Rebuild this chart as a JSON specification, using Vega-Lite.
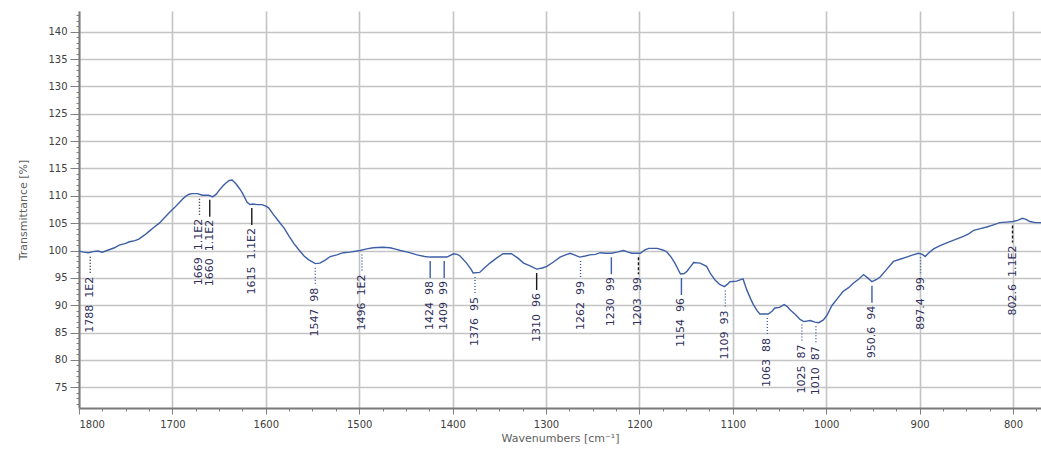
{
  "$schema": "https://vega.github.io/schema/vega-lite/v6.json",
  "width": 962,
  "height": 397,
  "autosize": "none",
  "padding": {"left": 79, "top": 11, "right": 0, "bottom": 45},
  "background": "white",
  "config": {"view": {"stroke": null}, "font": "DejaVu Sans"},
  "datasets": {
    "spectrum": [
      {"w": 1800, "T": 99.9}, {"w": 1795, "T": 99.7}, {"w": 1790, "T": 99.6}, {"w": 1785, "T": 99.8},
      {"w": 1780, "T": 99.9}, {"w": 1775, "T": 99.7}, {"w": 1770, "T": 100.0}, {"w": 1762, "T": 100.5},
      {"w": 1757, "T": 101.0}, {"w": 1750, "T": 101.3}, {"w": 1746, "T": 101.6}, {"w": 1740, "T": 101.8},
      {"w": 1736, "T": 102.1}, {"w": 1730, "T": 102.8}, {"w": 1725, "T": 103.5}, {"w": 1720, "T": 104.2},
      {"w": 1714, "T": 105.0}, {"w": 1709, "T": 105.9}, {"w": 1704, "T": 106.8}, {"w": 1698, "T": 107.8},
      {"w": 1693, "T": 108.7}, {"w": 1689, "T": 109.4}, {"w": 1686, "T": 109.9}, {"w": 1682, "T": 110.3},
      {"w": 1679, "T": 110.4}, {"w": 1673, "T": 110.4}, {"w": 1668, "T": 110.1}, {"w": 1661, "T": 110.1},
      {"w": 1657, "T": 109.8}, {"w": 1653, "T": 110.3}, {"w": 1650, "T": 111.0}, {"w": 1646, "T": 111.8},
      {"w": 1643, "T": 112.3}, {"w": 1639, "T": 112.8}, {"w": 1636, "T": 112.9}, {"w": 1632, "T": 112.2},
      {"w": 1628, "T": 111.3}, {"w": 1625, "T": 110.5}, {"w": 1620, "T": 108.8}, {"w": 1617, "T": 108.4},
      {"w": 1614, "T": 108.5}, {"w": 1609, "T": 108.4}, {"w": 1604, "T": 108.4}, {"w": 1600, "T": 108.1},
      {"w": 1597, "T": 107.8}, {"w": 1592, "T": 106.6}, {"w": 1586, "T": 105.3}, {"w": 1580, "T": 104.0},
      {"w": 1575, "T": 102.6}, {"w": 1570, "T": 101.3}, {"w": 1564, "T": 100.0}, {"w": 1559, "T": 99.0},
      {"w": 1554, "T": 98.3}, {"w": 1547, "T": 97.6}, {"w": 1542, "T": 97.7}, {"w": 1536, "T": 98.3},
      {"w": 1531, "T": 98.9}, {"w": 1524, "T": 99.2}, {"w": 1517, "T": 99.6}, {"w": 1510, "T": 99.7},
      {"w": 1499, "T": 100.0}, {"w": 1492, "T": 100.3}, {"w": 1485, "T": 100.5}, {"w": 1475, "T": 100.6},
      {"w": 1467, "T": 100.5}, {"w": 1460, "T": 100.2}, {"w": 1456, "T": 100.0}, {"w": 1448, "T": 99.7},
      {"w": 1438, "T": 99.2}, {"w": 1430, "T": 98.9}, {"w": 1424, "T": 98.8}, {"w": 1415, "T": 98.8},
      {"w": 1406, "T": 98.8}, {"w": 1399, "T": 99.4}, {"w": 1395, "T": 99.3}, {"w": 1392, "T": 99.0},
      {"w": 1385, "T": 97.7}, {"w": 1380, "T": 96.5}, {"w": 1378, "T": 95.9}, {"w": 1371, "T": 96.0},
      {"w": 1366, "T": 96.8}, {"w": 1360, "T": 97.7}, {"w": 1353, "T": 98.6}, {"w": 1346, "T": 99.4},
      {"w": 1337, "T": 99.4}, {"w": 1330, "T": 98.6}, {"w": 1324, "T": 97.7}, {"w": 1317, "T": 97.2},
      {"w": 1310, "T": 96.6}, {"w": 1304, "T": 96.8}, {"w": 1299, "T": 97.1}, {"w": 1292, "T": 97.9},
      {"w": 1285, "T": 98.8}, {"w": 1279, "T": 99.2}, {"w": 1274, "T": 99.5}, {"w": 1264, "T": 98.8},
      {"w": 1258, "T": 99.0}, {"w": 1253, "T": 99.2}, {"w": 1247, "T": 99.3}, {"w": 1242, "T": 99.6},
      {"w": 1236, "T": 99.5}, {"w": 1230, "T": 99.5}, {"w": 1224, "T": 99.7}, {"w": 1217, "T": 100.0},
      {"w": 1212, "T": 99.7}, {"w": 1208, "T": 99.5}, {"w": 1199, "T": 99.5}, {"w": 1194, "T": 100.1},
      {"w": 1190, "T": 100.4}, {"w": 1181, "T": 100.4}, {"w": 1175, "T": 100.1}, {"w": 1171, "T": 99.8},
      {"w": 1166, "T": 98.8}, {"w": 1162, "T": 97.7}, {"w": 1156, "T": 95.7}, {"w": 1152, "T": 95.8},
      {"w": 1149, "T": 96.2}, {"w": 1145, "T": 97.1}, {"w": 1142, "T": 97.8}, {"w": 1135, "T": 97.7},
      {"w": 1128, "T": 97.1}, {"w": 1124, "T": 95.8}, {"w": 1119, "T": 94.6}, {"w": 1114, "T": 93.8},
      {"w": 1109, "T": 93.4}, {"w": 1106, "T": 93.8}, {"w": 1103, "T": 94.3}, {"w": 1096, "T": 94.4},
      {"w": 1089, "T": 94.8}, {"w": 1085, "T": 92.8}, {"w": 1081, "T": 91.2}, {"w": 1078, "T": 90.1},
      {"w": 1074, "T": 89.0}, {"w": 1071, "T": 88.4}, {"w": 1062, "T": 88.4}, {"w": 1058, "T": 88.9},
      {"w": 1055, "T": 89.5}, {"w": 1050, "T": 89.6}, {"w": 1045, "T": 90.1}, {"w": 1042, "T": 89.8},
      {"w": 1039, "T": 89.2}, {"w": 1033, "T": 88.3}, {"w": 1028, "T": 87.4}, {"w": 1024, "T": 87.0},
      {"w": 1017, "T": 87.2}, {"w": 1012, "T": 86.9}, {"w": 1008, "T": 86.8}, {"w": 1003, "T": 87.3},
      {"w": 999, "T": 88.2}, {"w": 994, "T": 89.9}, {"w": 988, "T": 91.2}, {"w": 982, "T": 92.5},
      {"w": 976, "T": 93.2}, {"w": 971, "T": 94.0}, {"w": 965, "T": 94.8}, {"w": 960, "T": 95.6},
      {"w": 955, "T": 94.9}, {"w": 951, "T": 94.3}, {"w": 946, "T": 94.7}, {"w": 942, "T": 95.2},
      {"w": 935, "T": 96.6}, {"w": 928, "T": 98.0}, {"w": 921, "T": 98.4}, {"w": 914, "T": 98.8},
      {"w": 907, "T": 99.2}, {"w": 901, "T": 99.5}, {"w": 897, "T": 99.3}, {"w": 894, "T": 98.9},
      {"w": 890, "T": 99.6}, {"w": 885, "T": 100.3}, {"w": 878, "T": 100.9}, {"w": 871, "T": 101.4},
      {"w": 862, "T": 102.0}, {"w": 853, "T": 102.6}, {"w": 847, "T": 103.1}, {"w": 842, "T": 103.7},
      {"w": 835, "T": 104.0}, {"w": 828, "T": 104.3}, {"w": 821, "T": 104.7}, {"w": 814, "T": 105.1},
      {"w": 807, "T": 105.2}, {"w": 800, "T": 105.3}, {"w": 795, "T": 105.5}, {"w": 790, "T": 105.9},
      {"w": 786, "T": 105.7}, {"w": 782, "T": 105.3}, {"w": 776, "T": 105.1}, {"w": 770, "T": 105.1}
    ],
    "peaks": [
      {"w": 1788, "T": 99.6, "label": "1788\u00a0\u00a01E2", "kind": "dotblack"},
      {"w": 1671, "T": 110.2, "label": "1669\u00a0\u00a01.1E2", "kind": "dotblack"},
      {"w": 1660, "T": 110.0, "label": "1660\u00a0\u00a01.1E2", "kind": "solidblack"},
      {"w": 1615, "T": 108.5, "label": "1615\u00a0\u00a01.1E2", "kind": "solidblack"},
      {"w": 1547, "T": 97.6, "label": "1547\u00a0\u00a098", "kind": "dotblue"},
      {"w": 1497, "T": 100.0, "label": "1496\u00a0\u00a01E2", "kind": "dotblue"},
      {"w": 1424, "T": 98.8, "label": "1424\u00a0\u00a098", "kind": "solidblue"},
      {"w": 1409, "T": 98.8, "label": "1409\u00a0\u00a099", "kind": "solidblue"},
      {"w": 1376, "T": 95.9, "label": "1376\u00a0\u00a095", "kind": "dotblue"},
      {"w": 1310, "T": 96.6, "label": "1310\u00a0\u00a096", "kind": "solidblack"},
      {"w": 1263, "T": 98.8, "label": "1262\u00a0\u00a099", "kind": "dotblue"},
      {"w": 1230, "T": 99.5, "label": "1230\u00a0\u00a099", "kind": "solidblue"},
      {"w": 1201, "T": 99.5, "label": "1203\u00a0\u00a099", "kind": "dashblack"},
      {"w": 1155, "T": 95.7, "label": "1154\u00a0\u00a096", "kind": "solidblue"},
      {"w": 1108, "T": 93.4, "label": "1109\u00a0\u00a093", "kind": "dotblue"},
      {"w": 1063, "T": 88.4, "label": "1063\u00a0\u00a088", "kind": "dotblue"},
      {"w": 1026, "T": 87.2, "label": "1025\u00a0\u00a087", "kind": "dotblue"},
      {"w": 1011, "T": 86.9, "label": "1010\u00a0\u00a087", "kind": "dotblue"},
      {"w": 951, "T": 94.3, "label": "950.6\u00a0\u00a094", "kind": "solidblue"},
      {"w": 899, "T": 99.5, "label": "897.4\u00a0\u00a099", "kind": "dotblue"},
      {"w": 800.5, "T": 105.3, "label": "802.6\u00a0\u00a01.1E2", "kind": "dashblack"}
    ]
  },
  "resolve": {"axis": {"x": "independent", "y": "independent"}},
  "layer": [
    {
      "data": {"name": "spectrum"},
      "mark": {"type": "line", "color": "#3d5fa6", "strokeWidth": 1.4, "clip": true},
      "encoding": {
        "x": {
          "field": "w", "type": "quantitative",
          "scale": {"domain": [1800, 770], "nice": false, "zero": false},
          "axis": {
            "orient": "bottom",
            "values": [1800, 1700, 1600, 1500, 1400, 1300, 1200, 1100, 1000, 900, 800],
            "format": "d", "labelFontSize": 10, "labelColor": "#404040", "labelPadding": 5,
            "tickSize": 6, "tickColor": "#808080", "domainColor": "#7a7a7a", "domainWidth": 2,
            "grid": true, "gridColor": "#c4c4c4", "gridWidth": 1.6,
            "title": "Wavenumbers [cm⁻¹]", "titleFontSize": 11, "titleFontWeight": "normal",
            "titleColor": "#606060", "titlePadding": 3
          }
        },
        "y": {
          "field": "T", "type": "quantitative",
          "scale": {"domain": [71.2, 143.8], "nice": false, "zero": false},
          "axis": {
            "orient": "left",
            "values": [75, 80, 85, 90, 95, 100, 105, 110, 115, 120, 125, 130, 135, 140],
            "labelFontSize": 10, "labelColor": "#404040", "labelPadding": 3,
            "tickSize": 9, "tickColor": "#808080", "domainColor": "#7a7a7a", "domainWidth": 2,
            "grid": true, "gridColor": "#c4c4c4", "gridWidth": 1.6,
            "title": "Transmittance [%]", "titleFontSize": 11, "titleFontWeight": "normal",
            "titleColor": "#606060", "titlePadding": 19
          }
        }
      }
    },
    {
      "data": {"name": "peaks"},
      "mark": {"type": "rule", "strokeWidth": 1.4, "yOffset": 4, "y2Offset": 21},
      "encoding": {
        "x": {"field": "w", "type": "quantitative", "axis": {
          "orient": "bottom", "values": [1775, 1750, 1725, 1675, 1650, 1625, 1575, 1550, 1525, 1475, 1450, 1425, 1375, 1350, 1325, 1275, 1250, 1225, 1175, 1150, 1125, 1075, 1050, 1025, 975, 950, 925, 875, 850, 825, 775],
          "labels": false, "domain": false, "grid": false, "tickSize": 3, "tickColor": "#808080", "title": null}},
        "y": {"field": "T", "type": "quantitative", "axis": {
          "orient": "left", "values": [72,73,74,76,77,78,79,81,82,83,84,86,87,88,89,91,92,93,94,96,97,98,99,101,102,103,104,106,107,108,109,111,112,113,114,116,117,118,119,121,122,123,124,126,127,128,129,131,132,133,134,136,137,138,139,141,142,143],
          "labels": false, "domain": false, "grid": false, "tickSize": 3, "tickColor": "#808080", "title": null}},
        "y2": {"field": "T"},
        "color": {"field": "kind", "type": "nominal", "legend": null,
          "scale": {"domain": ["dotblue", "dotblack", "solidblue", "solidblack", "dashblack"],
                    "range": ["#3d5fa6", "#1a1a1a", "#3d5fa6", "#1a1a1a", "#1a1a1a"]}},
        "strokeDash": {"field": "kind", "type": "nominal", "legend": null,
          "scale": {"domain": ["dotblue", "dotblack", "solidblue", "solidblack", "dashblack"],
                    "range": [[1, 2], [1, 2], [1, 0], [1, 0], [3, 2]]}}
      }
    },
    {
      "data": {"name": "peaks"},
      "mark": {"type": "text", "angle": 270, "align": "right", "baseline": "middle",
               "yOffset": 24, "fontSize": 11, "color": "#2e2e58"},
      "encoding": {
        "x": {"field": "w", "type": "quantitative", "axis": null},
        "y": {"field": "T", "type": "quantitative", "axis": null},
        "text": {"field": "label"}
      }
    }
  ]
}
